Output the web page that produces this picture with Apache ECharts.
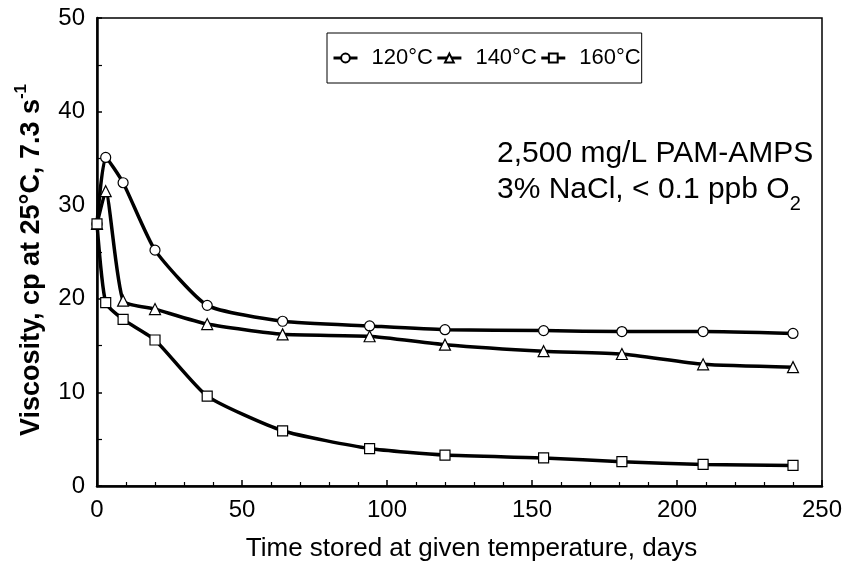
<!DOCTYPE html>
<html>
<head>
<meta charset="utf-8">
<script src="https://cdn.jsdelivr.net/npm/echarts@6/dist/echarts.min.js"></script>
<style>
  html, body { margin: 0; padding: 0; background: #fff; }
  #chart { width: 860px; height: 576px; }
</style>
</head>
<body>
<div id="chart"></div>
<script>
// days in storage (same sampling for all three temperatures)
const days = [0, 3, 9, 20, 38, 64, 94, 120, 154, 181, 209, 240];
const visc120 = [28.0, 35.1, 32.4, 25.2, 19.3, 17.6, 17.1, 16.7, 16.6, 16.5, 16.5, 16.3];
const visc140 = [28.0, 31.5, 19.8, 18.9, 17.3, 16.2, 16.0, 15.1, 14.4, 14.1, 13.0, 12.7];
const visc160 = [28.0, 19.6, 17.8, 15.6, 9.6, 5.9, 4.0, 3.3, 3.0, 2.6, 2.3, 2.2];
const seriesNames = ['120°C', '140°C', '160°C'];
const xTicks = [0, 50, 100, 150, 200, 250];
const yTicks = [0, 10, 20, 30, 40, 50];

const FONT = 'Liberation Sans, Arial, sans-serif';

function pairs(vals) {
	return days.map((d, i) => [d, vals[i]]);
}

function makeSeries(name, vals, symbol, size) {
	return {
		name: name,
		type: 'line',
		data: pairs(vals),
		smooth: 0.18,
		symbol: symbol,
		symbolSize: size,
		showAllSymbol: true,
		lineStyle: { color: '#000', width: 3.5 },
		itemStyle: { color: '#fff', borderColor: '#000', borderWidth: 1.2 },
		emphasis: { disabled: true },
		z: 3
	};
}

let myChart = echarts.init(document.getElementById('chart'), null, { renderer: 'canvas' });

let option = {
	backgroundColor: '#fff',
	animation: false,
	textStyle: { fontFamily: FONT, color: '#000' },
	grid: {
		left: 97, right: 38, top: 18, bottom: 90,
		show: true,
		borderColor: '#000',
		borderWidth: 1.5,
		backgroundColor: 'transparent'
	},
	legend: {
		data: seriesNames,
		left: 327,
		top: 33,
		orient: 'horizontal',
		borderColor: '#000',
		borderWidth: 1,
		padding: [14, 1, 14, 5],
		itemGap: 3,
		itemWidth: 24,
		itemHeight: 11,
		lineStyle: { width: 3 },
		textStyle: { fontSize: 22, color: '#000', fontFamily: FONT, padding: [0, 0, 0, 9] }
	},
	xAxis: {
		type: 'value',
		min: xTicks[0],
		max: xTicks[xTicks.length - 1],
		interval: 50,
		name: 'Time stored at given temperature, days',
		nameLocation: 'middle',
		nameGap: 50,
		nameTextStyle: { fontSize: 26, color: '#000', fontFamily: FONT, padding: [0, 0, 0, 24] },
		axisLine: { show: true, lineStyle: { color: '#000', width: 2.5 } },
		axisTick: { show: true, inside: true, length: 6, lineStyle: { color: '#000', width: 1.5 } },
		minorTick: { show: true, splitNumber: 5, length: 4, lineStyle: { color: '#000', width: 1.2 } },
		axisLabel: { fontSize: 24, color: '#000', margin: 12, fontFamily: FONT },
		splitLine: { show: false }
	},
	yAxis: {
		type: 'value',
		min: yTicks[0],
		max: yTicks[yTicks.length - 1],
		interval: 10,
		axisLine: { show: true, lineStyle: { color: '#000', width: 2.5 } },
		axisTick: { show: true, inside: true, length: 5, lineStyle: { color: '#000', width: 1.5 } },
		minorTick: { show: true, splitNumber: 2, length: 5, lineStyle: { color: '#000', width: 1.2 } },
		axisLabel: { fontSize: 24, color: '#000', margin: 12, fontFamily: FONT },
		splitLine: { show: false }
	},
	graphic: [{
		// y axis title, rotated, with superscript
		type: 'text',
		x: 29,
		y: 260,
		rotation: Math.PI / 2,
		style: {
			text: '{b|Viscosity, cp at 25°C, 7.3 s}{sup|-1}',
			align: 'center',
			verticalAlign: 'middle',
			rich: {
				b: { fontSize: 27, fontWeight: 'bold', fill: '#000', fontFamily: FONT, lineHeight: 32, verticalAlign: 'bottom' },
				sup: { fontSize: 17, fontWeight: 'bold', fill: '#000', fontFamily: FONT, lineHeight: 32, verticalAlign: 'top' }
			}
		}
	}, {
		type: 'text',
		left: 497,
		top: 139,
		style: {
			text: '{n|2,500 mg/L PAM-AMPS}\n{n|3% NaCl, < 0.1 ppb O}{sub|2}',
			rich: {
				n: { fontSize: 30, fill: '#000', fontFamily: FONT, lineHeight: 36 },
				sub: { fontSize: 20, fill: '#000', fontFamily: FONT, lineHeight: 36, verticalAlign: 'bottom', padding: [0, 0, -6, 0] }
			}
		}
	}],
	series: [
		makeSeries(seriesNames[0], visc120, 'circle', 10),
		makeSeries(seriesNames[1], visc140, 'triangle', 11),
		makeSeries(seriesNames[2], visc160, 'rect', 10)
	]
};

option && myChart.setOption(option);
</script>
</body>
</html>
